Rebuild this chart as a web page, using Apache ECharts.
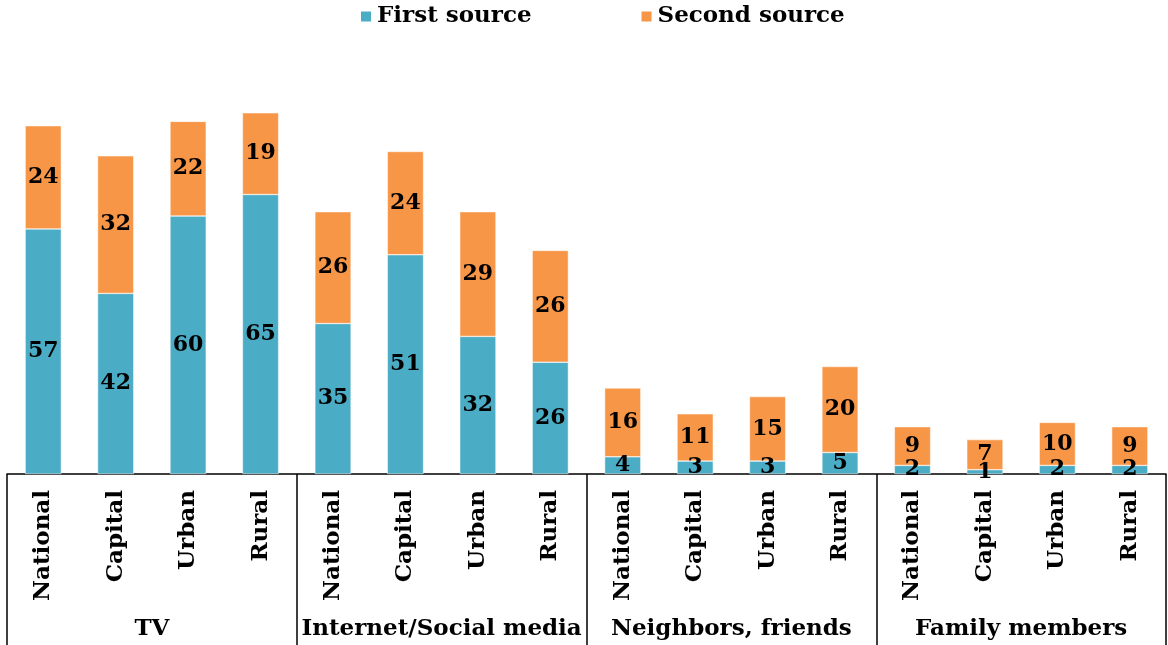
<!DOCTYPE html>
<html>
<head>
<meta charset="utf-8">
<script src="https://cdn.jsdelivr.net/npm/echarts@6/dist/echarts.min.js"></script>
<style>html,body{margin:0;padding:0;background:#fff}#c{width:1168px;height:645px}</style>
</head>
<body>
<div id="c"></div>
<script>
const groups = ['TV', 'Internet/Social media', 'Neighbors, friends', 'Family members'];
const subCategories = ['National', 'Capital', 'Urban', 'Rural'];
const firstSource = [57, 42, 60, 65, 35, 51, 32, 26, 4, 3, 3, 5, 2, 1, 2, 2];
const secondSource = [24, 32, 22, 19, 26, 24, 29, 26, 16, 11, 15, 20, 9, 7, 10, 9];
const seriesNames = ['First source', 'Second source'];

const categories = [];
groups.forEach(g => subCategories.forEach(s => categories.push(s)));

const FONT = '"DejaVu Serif", serif';
const chart = echarts.init(document.getElementById('c'));
chart.setOption({
  animation: false,
  color: ['#4BACC6', '#F79646'],
  textStyle: { fontFamily: FONT },
  legend: {
    top: 0, left: 354,
    itemWidth: 12, itemHeight: 12, itemGap: 108,
    icon: 'rect',
    textStyle: { fontFamily: FONT, fontSize: 23, fontWeight: 'bold', color: '#000' },
    data: seriesNames
  },
  grid: { left: 7, right: 2, top: 44, bottom: 171, containLabel: false },
  xAxis: [
    {
      type: 'category', data: categories, position: 'bottom',
      axisLine: { show: true, lineStyle: { color: '#000', width: 1.5 } },
      axisTick: { show: false },
      axisLabel: { interval: 0, rotate: 90, margin: 16, fontFamily: FONT, fontSize: 23, fontWeight: 'bold', color: '#000' }
    },
    {
      type: 'category', data: groups, position: 'bottom',
      axisLine: { show: false },
      axisTick: { show: true, length: 172, lineStyle: { color: '#000', width: 1.5 } },
      axisLabel: { interval: 0, margin: 144, fontFamily: FONT, fontSize: 23, fontWeight: 'bold', color: '#000' }
    }
  ],
  yAxis: { type: 'value', min: 0, max: 100, show: false, splitLine: { show: false } },
  series: [
    {
      name: seriesNames[0], type: 'bar', stack: 'a', barWidth: '50%', data: firstSource,
      itemStyle: { borderColor: '#fff', borderWidth: 0.5 },
      label: { show: true, position: 'inside', fontFamily: FONT, fontSize: 22, fontWeight: 'bold', color: '#000' }
    },
    {
      name: seriesNames[1], type: 'bar', stack: 'a', barWidth: '50%', data: secondSource,
      itemStyle: { borderColor: '#fff', borderWidth: 0.5 },
      label: { show: true, position: 'inside', fontFamily: FONT, fontSize: 22, fontWeight: 'bold', color: '#000' }
    }
  ]
});
</script>
</body>
</html>
